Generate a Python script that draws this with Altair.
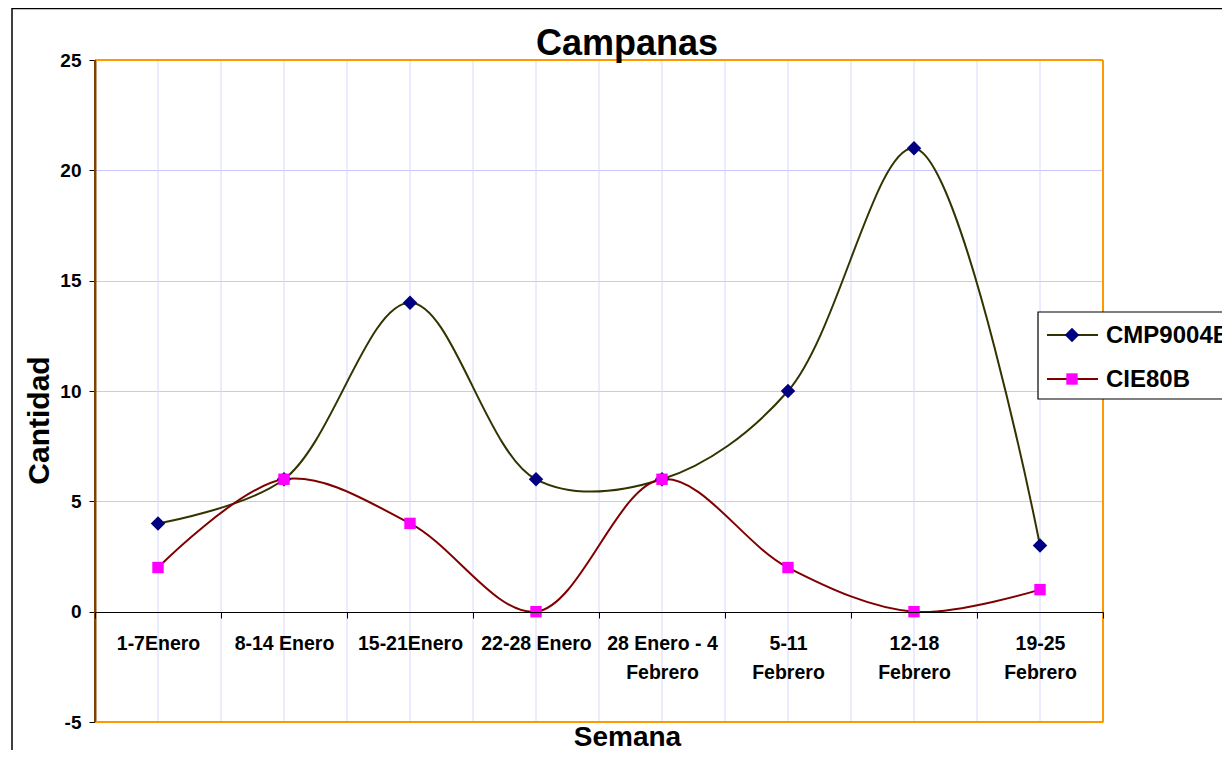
import altair as alt
import pandas as pd

weeks = ["1-7Enero", "8-14 Enero", "15-21Enero", "22-28 Enero",
         "28 Enero - 4\nFebrero", "5-11\nFebrero", "12-18\nFebrero", "19-25\nFebrero"]
series = ["CMP9004B", "CIE80B"]
cmp_vals = [4, 6, 14, 6, 6, 10, 21, 3]
cie_vals = [2, 6, 4, 0, 6, 2, 0, 1]
y_ticks = [-5, 0, 5, 10, 15, 20, 25]
chart_title = "Campanas"

line_colors = ["#333300", "#800000"]
marker_colors = ["#000080", "#FF00FF"]
shapes = ["diamond", "square"]
marker_sizes = [210, 130]

FONT = "Liberation Sans"
W, H = 1008, 662

rows = []
for s, vals in zip(series, [cmp_vals, cie_vals]):
    for w, v in zip(weeks, vals):
        rows.append({"semana": w, "serie": s, "valor": v})
df = pd.DataFrame(rows)
wk_df = pd.DataFrame({"semana": weeks})
edge_df = pd.DataFrame({"semana": weeks[1:]})

x_scale = alt.Scale(type="band", domain=weeks, paddingInner=0, paddingOuter=0)
x_axis = alt.Axis(
    title="Semana", orient="bottom", offset=-110, zindex=1,
    grid=False, domainColor="black", domainWidth=1.2,
    tickColor="black", tickSize=6, tickBand="extent",
    labelExpr="split(datum.label, '\\n')", labelAngle=0,
    labelFont=FONT, labelFontSize=19.5, labelFontWeight="bold", labelColor="black",
    labelPadding=16, labelLineHeight=29, labelBaseline="top",
    titleFont=FONT, titleFontSize=28, titleFontWeight="bold", titleColor="black",
    titleX=532, titleY=133, titleBaseline="alphabetic", titleAlign="center",
)
y_scale = alt.Scale(domain=[-5, 25], nice=False, zero=False)
y_axis = alt.Axis(
    title="Cantidad", values=y_ticks, grid=True, gridColor="#c8c8ff", gridWidth=1,
    domainColor="#804000", domainWidth=2, tickColor="black", tickSize=6,
    labelExpr="datum.value + ''",
    labelFont=FONT, labelFontSize=19, labelFontWeight="bold", labelColor="black",
    labelPadding=8,
    titleFont=FONT, titleFontSize=30, titleFontWeight="bold", titleColor="black",
    titleAngle=-90, titleX=-47, titleY=360, titleBaseline="alphabetic", titleAlign="center",
)

def xenc(bp=0.5):
    return alt.X("semana:N", sort=weeks, scale=x_scale, axis=x_axis, bandPosition=bp)

yenc = alt.Y("valor:Q", scale=y_scale, axis=y_axis)

grid_mid = alt.Chart(wk_df).mark_rule(color="#d8d8ff", strokeWidth=1).encode(
    x=xenc(0.5), y=alt.value(0), y2=alt.value(H))
grid_edge = alt.Chart(edge_df).mark_rule(color="#d8d8ff", strokeWidth=1).encode(
    x=xenc(0), y=alt.value(0), y2=alt.value(H))

lines = alt.Chart(df).mark_line(interpolate="catmull-rom", strokeWidth=2).encode(
    x=xenc(), y=yenc,
    color=alt.Color("serie:N", scale=alt.Scale(domain=series, range=line_colors), legend=None),
    detail="serie:N",
)
points = alt.Chart(df).mark_point(filled=True, opacity=1, strokeWidth=0).encode(
    x=xenc(), y=yenc,
    fill=alt.Fill("serie:N", scale=alt.Scale(domain=series, range=marker_colors), legend=None),
    shape=alt.Shape("serie:N", scale=alt.Scale(domain=series, range=shapes), legend=None),
    size=alt.Size("serie:N", scale=alt.Scale(domain=series, range=marker_sizes), legend=None),
)

one = alt.Data(values=[{}])
border = alt.Chart(one).mark_rect(fillOpacity=0, stroke="black", strokeWidth=1.5).encode(
    x=alt.value(-83), x2=alt.value(1400), y=alt.value(-51.5), y2=alt.value(900))
frame_top = alt.Chart(one).mark_rule(color="#FF9900", strokeWidth=2).encode(
    x=alt.value(0), x2=alt.value(W), y=alt.value(0))
frame_bottom = alt.Chart(one).mark_rule(color="#FF9900", strokeWidth=2).encode(
    x=alt.value(0), x2=alt.value(W), y=alt.value(H))
frame_right = alt.Chart(one).mark_rule(color="#FF9900", strokeWidth=2).encode(
    x=alt.value(W), y=alt.value(0), y2=alt.value(H))
frame_left = alt.Chart(one).mark_rule(color="#804000", strokeWidth=2).encode(
    x=alt.value(0), y=alt.value(0), y2=alt.value(H))
title_text = alt.Chart(one).mark_text(
    text=chart_title, align="center", baseline="alphabetic", font=FONT, fontSize=36,
    fontWeight="bold", color="black").encode(x=alt.value(532), y=alt.value(-5))

legend_box = alt.Chart(one).mark_rect(fill="white", stroke="black", strokeWidth=1.2).encode(
    x=alt.value(943), x2=alt.value(1400), y=alt.value(252), y2=alt.value(339))

legend_layers = [legend_box]
leg_y = [275, 319]
for i, s in enumerate(series):
    legend_layers.append(alt.Chart(one).mark_rule(color=line_colors[i], strokeWidth=2).encode(
        x=alt.value(952), x2=alt.value(1003), y=alt.value(leg_y[i])))
    legend_layers.append(alt.Chart(one).mark_point(
        filled=True, opacity=1, shape=shapes[i], size=marker_sizes[i],
        color=marker_colors[i], strokeWidth=0).encode(x=alt.value(977), y=alt.value(leg_y[i])))
    legend_layers.append(alt.Chart(one).mark_text(
        text=s, align="left", baseline="middle", font=FONT, fontSize=24,
        fontWeight="bold", color="black").encode(x=alt.value(1011), y=alt.value(leg_y[i] + 1)))

chart = alt.layer(
    border, grid_mid, grid_edge, lines, points,
    frame_top, frame_bottom, frame_right, frame_left, title_text, *legend_layers
).properties(
    width=W, height=H,
    autosize=alt.AutoSizeParams(type="none"),
    padding={"left": 87, "top": 52, "right": 119, "bottom": 28},
).configure_view(stroke=None).configure(background="white")

chart.save("out.html", embed_options={"renderer": "svg", "actions": False})
